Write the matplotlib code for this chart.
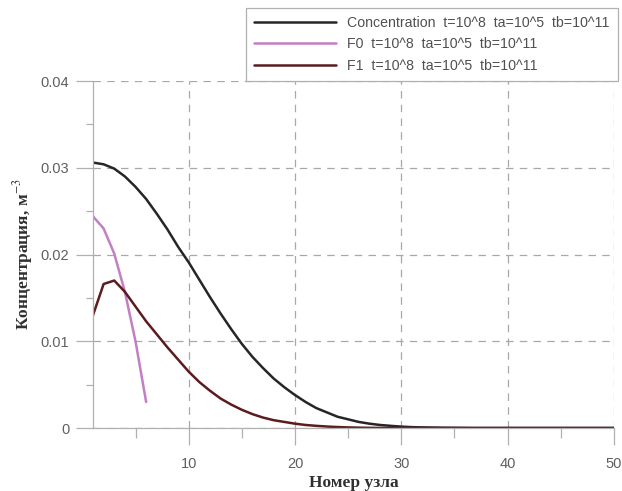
import numpy as np
import matplotlib.pyplot as plt
from matplotlib.ticker import MultipleLocator

# node numbers
nodes = np.arange(1, 51)
nodes_f0 = np.arange(1, 7)

# concentration profile, t=10^8
conc = [0.0306, 0.0304, 0.0299, 0.0290, 0.0278, 0.0264, 0.0247, 0.0229, 0.0209, 0.0191,
        0.0171, 0.0151, 0.0132, 0.0114, 0.0097, 0.0082, 0.0069, 0.0057, 0.0047, 0.0038,
        0.0030, 0.0023, 0.0018, 0.0013, 0.0010, 0.0007, 0.0005, 0.00035, 0.00025, 0.00016,
        0.0001, 0.00007, 0.00005, 0.00003, 0.00002, 0.00001, 0.0, 0.0, 0.0, 0.0,
        0.0, 0.0, 0.0, 0.0, 0.0, 0.0, 0.0, 0.0, 0.0, 0.0]

# F0 flux (first few nodes only)
f0 = [0.0244, 0.0230, 0.0201, 0.0157, 0.0100, 0.0030]

# F1 flux
f1 = [0.0130, 0.0166, 0.0170, 0.0157, 0.0140, 0.0123, 0.0108, 0.0093, 0.0079, 0.0065,
      0.0053, 0.0043, 0.0034, 0.0027, 0.0021, 0.0016, 0.0012, 0.0009, 0.0007, 0.0005,
      0.00035, 0.00025, 0.00017, 0.00011, 0.00007, 0.00004, 0.00002, 0.00001, 0.0, 0.0,
      0.0, 0.0, 0.0, 0.0, 0.0, 0.0, 0.0, 0.0, 0.0, 0.0,
      0.0, 0.0, 0.0, 0.0, 0.0, 0.0, 0.0, 0.0, 0.0, 0.0]

labels = ['Concentration  t=10^8  ta=10^5  tb=10^11',
          'F0  t=10^8  ta=10^5  tb=10^11',
          'F1  t=10^8  ta=10^5  tb=10^11']

plt.rcParams['font.family'] = 'Liberation Sans'
plt.rcParams['mathtext.fontset'] = 'stix'

fig = plt.figure(figsize=(6.22, 4.91), dpi=100)
ax = fig.add_axes([0.1495, 0.1283, 0.8375, 0.7067])

lkw = dict(lw=1.8, solid_joinstyle='round', solid_capstyle='round')
ax.plot(nodes, conc, color='#262626', label=labels[0], **lkw)
ax.plot(nodes_f0, f0, color='#c27fc4', label=labels[1], **lkw)
ax.plot(nodes, f1, color='#5c1c1e', label=labels[2], **lkw)

ax.set_xlim(1, 50)
ax.set_ylim(0, 0.04)
ax.xaxis.set_major_locator(MultipleLocator(10))
ax.xaxis.set_minor_locator(MultipleLocator(5))
ax.yaxis.set_minor_locator(MultipleLocator(0.005))
ax.set_yticks([0, 0.01, 0.02, 0.03, 0.04])
ax.set_yticklabels(['0', '0.01', '0.02', '0.03', '0.04'])

ax.grid(True, which='major', color='#a8a8a8', ls=(0, (6, 5)), lw=0.9)
for s in ['top', 'right']:
    ax.spines[s].set_visible(False)
for s in ['left', 'bottom']:
    ax.spines[s].set_color('#b0b0b0')
    ax.spines[s].set_linewidth(0.9)

ax.tick_params(which='major', length=12, width=0.9, color='#b0b0b0',
               labelsize=10.5, labelcolor='#606060')
ax.tick_params(axis='y', which='major', pad=5)
ax.tick_params(axis='x', which='major', pad=9)
ax.tick_params(axis='x', which='minor', length=7, width=0.9, color='#b0b0b0')
ax.tick_params(axis='y', which='minor', length=5, width=0.9, color='#b0b0b0')

ax.set_xlabel('Номер узла', family='Liberation Serif', fontweight='bold',
              fontsize=12.5, color='#303030', labelpad=3)
ax.set_ylabel('Концентрация, м$^{-3}$', family='Liberation Serif', fontweight='bold',
              fontsize=12.5, color='#303030', labelpad=4)

leg = fig.legend(loc='upper right', bbox_to_anchor=(0.993, 0.984),
                 fancybox=False, edgecolor='#b0b0b0', framealpha=1,
                 fontsize=10.2, handlelength=5.8, labelspacing=0.55,
                 borderpad=0.55, handletextpad=0.8, borderaxespad=0)
for t in leg.get_texts():
    t.set_color('#505050')
leg.get_frame().set_linewidth(0.9)

fig.savefig('out.png', dpi=100)
